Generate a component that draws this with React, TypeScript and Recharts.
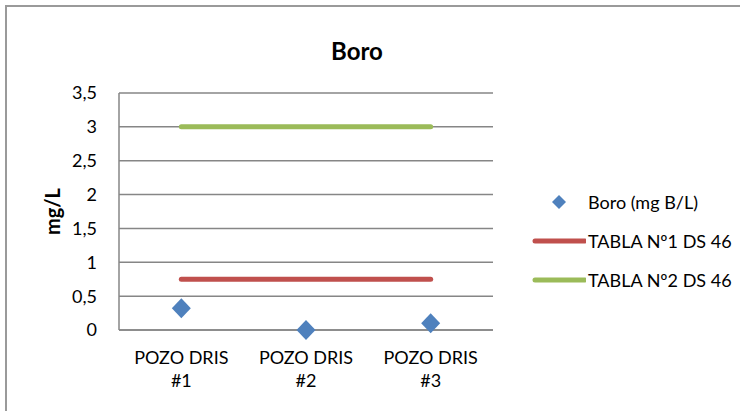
import React from 'react';
import { ComposedChart, Line, Scatter, XAxis, YAxis, CartesianGrid } from 'recharts';

const categories = ['POZO DRIS #1', 'POZO DRIS #2', 'POZO DRIS #3'];
const boroValues = [0.32, 0.0, 0.1];
const tabla1Values = [0.75, 0.75, 0.75];
const tabla2Values = [3, 3, 3];
const yTicks = [0, 0.5, 1, 1.5, 2, 2.5, 3, 3.5];

const seriesNames = ['Boro (mg B/L)', 'TABLA Nº1 DS 46', 'TABLA Nº2 DS 46'];
const colors = ['#4F81BD', '#C0504D', '#9BBB59'];

const data = categories.map((c, i) => ({
  name: c,
  boro: boroValues[i],
  t1: tabla1Values[i],
  t2: tabla2Values[i],
}));

const FONT = 'Lato, "Open Sans", sans-serif';
const FS = 18;

const Diamond = (props: any) => {
  const { cx, cy } = props;
  if (cx == null || cy == null) return null;
  const w = 9.5;
  const h = 10;
  return (
    <polygon
      points={`${cx},${cy - h} ${cx + w},${cy} ${cx},${cy + h} ${cx - w},${cy}`}
      fill={colors[0]}
    />
  );
};

const XTick = (props: any) => {
  const { x, y, payload } = props;
  const label: string = payload.value;
  const idx = label.lastIndexOf(' ');
  const l1 = label.slice(0, idx);
  const l2 = label.slice(idx + 1);
  return (
    <text x={x} y={y} textAnchor="middle" fill="#000" fontSize={FS} fontFamily={FONT}>
      <tspan x={x} dy={26}>{l1}</tspan>
      <tspan x={x} dy={23}>{l2}</tspan>
    </text>
  );
};

const LegendBox = () => (
  <div style={{ position: 'absolute', left: 530, top: 182, fontFamily: FONT, fontSize: FS, color: '#000' }}>
    <div style={{ display: 'flex', alignItems: 'center', height: 39 }}>
      <svg width={56} height={20}>
        <polygon points="29,3 36,10 29,17 22,10" fill={colors[0]} />
      </svg>
      <span style={{ marginLeft: 2 }}>{seriesNames[0]}</span>
    </div>
    <div style={{ display: 'flex', alignItems: 'center', height: 39 }}>
      <svg width={56} height={20}>
        <line x1={5} y1={10} x2={55} y2={10} stroke={colors[1]} strokeWidth={5} strokeLinecap="round" />
      </svg>
      <span style={{ marginLeft: 2 }}>{seriesNames[1]}</span>
    </div>
    <div style={{ display: 'flex', alignItems: 'center', height: 39 }}>
      <svg width={56} height={20}>
        <line x1={5} y1={10} x2={55} y2={10} stroke={colors[2]} strokeWidth={5} strokeLinecap="round" />
      </svg>
      <span style={{ marginLeft: 2 }}>{seriesNames[2]}</span>
    </div>
  </div>
);

export default function App() {
  return (
    <div style={{ position: 'absolute', left: 0, top: 0, width: 740, height: 411, background: '#fff' }}>
      <div
        style={{
          position: 'absolute',
          left: 5,
          top: 5,
          width: 740,
          height: 411,
          borderLeft: '2px solid #9a9a9a',
          borderTop: '2px solid #9a9a9a',
          boxSizing: 'border-box',
        }}
      />
      <div
        style={{
          position: 'absolute',
          left: 0,
          top: 36,
          width: 714,
          textAlign: 'center',
          fontFamily: FONT,
          fontWeight: 'bold',
          fontSize: 24,
          color: '#000',
        }}
      >
        Boro
      </div>
      <div style={{ position: 'absolute', left: 0, top: 0 }}>
        <ComposedChart
          width={740}
          height={411}
          data={data}
          margin={{ top: 93, right: 247, bottom: 31, left: 59 }}
        >
          <CartesianGrid vertical={false} stroke="#868686" strokeWidth={1.5} />
          <XAxis
            dataKey="name"
            scale="band"
            tick={<XTick />}
            tickLine={false}
            axisLine={{ stroke: '#868686', strokeWidth: 1.5 }}
            height={50}
            interval={0}
          />
          <YAxis
            domain={[0, 3.5]}
            ticks={yTicks}
            tickFormatter={(v: number) => String(v).replace('.', ',')}
            tick={{ fill: '#000', fontSize: FS, fontFamily: FONT }}
            tickLine={false}
            axisLine={{ stroke: '#868686', strokeWidth: 1.5 }}
            width={60}
            tickMargin={16}
            label={{
              value: 'mg/L',
              angle: -90,
              position: 'insideLeft',
              offset: -6,
              style: { fontFamily: FONT, fontSize: 20, fontWeight: 'bold', fill: '#000', textAnchor: 'middle' },
            }}
          />
          <Line
            dataKey="t1"
            name={seriesNames[1]}
            stroke={colors[1]}
            strokeWidth={5}
            strokeLinecap="round"
            dot={false}
            activeDot={false}
            isAnimationActive={false}
          />
          <Line
            dataKey="t2"
            name={seriesNames[2]}
            stroke={colors[2]}
            strokeWidth={5}
            strokeLinecap="round"
            dot={false}
            activeDot={false}
            isAnimationActive={false}
          />
          <Scatter
            dataKey="boro"
            name={seriesNames[0]}
            fill={colors[0]}
            shape={<Diamond />}
            isAnimationActive={false}
          />
        </ComposedChart>
      </div>
      <LegendBox />
    </div>
  );
}
